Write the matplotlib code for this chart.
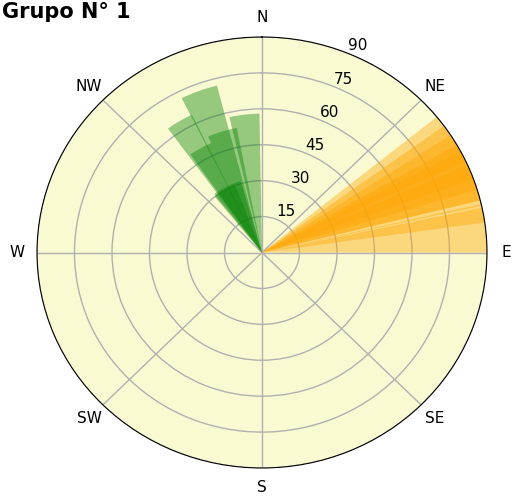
import numpy as np
import matplotlib
matplotlib.use("Agg")
import matplotlib.pyplot as plt

# Compass directions (degrees clockwise from North), widths (degrees), lengths
orange_dir = [84, 79.5, 68.75, 66.5, 67.5, 62, 58, 71]
orange_width = [12, 5, 17.5, 19, 11, 16, 14, 10]
orange_len = [90, 90, 90, 90, 90, 90, 90, 90]

green_dir = [-7, -20.5, -31, -29.5, -17.5, -27, -30]
green_width = [12, 12, 10, 11, 13, 22, 18]
green_len = [58, 72, 64, 50, 53, 31, 30]

directions = ['N', 'NE', 'E', 'SE', 'S', 'SW', 'W', 'NW']
rticks = [15, 30, 45, 60, 75, 90]
title = "Grupo N° 1"

fig = plt.figure(figsize=(5.13, 5.0), dpi=100)
ax = fig.add_axes([37/513, 1 - 468/500, 450/513, 431/500], projection='polar')
ax.set_aspect('auto')
ax.set_theta_zero_location('N')
ax.set_theta_direction(-1)
ax.set_facecolor('lightgoldenrodyellow')

ax.bar(np.deg2rad(orange_dir), orange_len, width=np.deg2rad(orange_width),
       bottom=0, color='orange', alpha=0.4, linewidth=0)
ax.bar(np.deg2rad(green_dir), green_len, width=np.deg2rad(green_width),
       bottom=0, color='green', alpha=0.4, linewidth=0)

ax.set_ylim(0, 90)
ax.set_yticks(rticks)
ax.set_yticklabels([str(v) for v in rticks], fontsize=11)
ax.set_xticks(np.deg2rad(np.arange(0, 360, 45)))
ax.set_xticklabels(directions, fontsize=11)
ax.grid(True, color='#b0b0b0', linewidth=1)
ax.set_axisbelow(True)

fig.text(0.003, 0.995, title, fontsize=15, fontweight='bold', ha='left', va='top')

fig.savefig('out.png', dpi=100)
